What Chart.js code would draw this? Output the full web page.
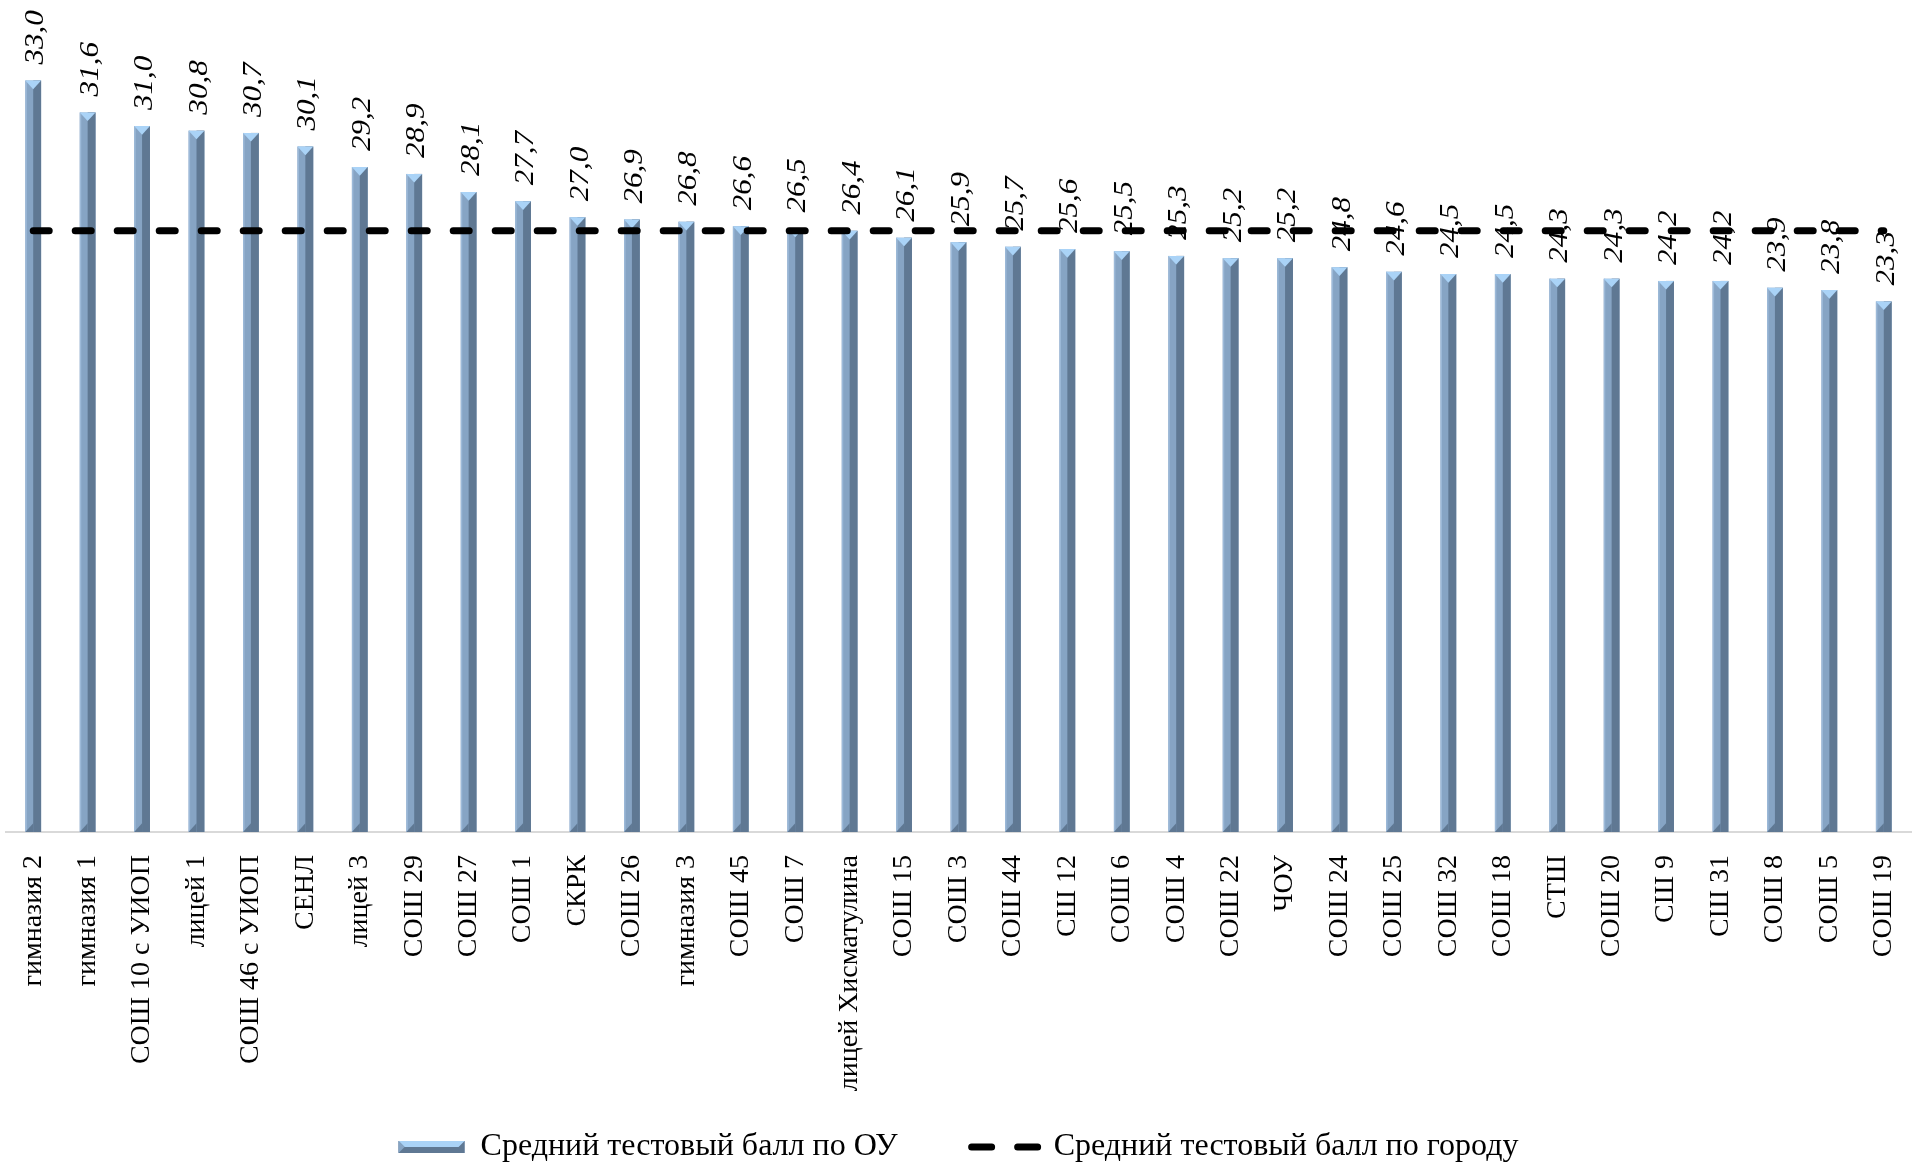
<!DOCTYPE html>
<html>
<head>
<meta charset="utf-8">
<script src="https://cdn.jsdelivr.net/npm/chart.js@4"></script>
<style>
  html, body { margin: 0; padding: 0; background: #fff; }
  #wrap { width: 1917px; height: 1166px; position: relative; }
</style>
</head>
<body>
<div id="wrap"><canvas id="chart"></canvas></div>
<script>
// data
const schools = ['гимназия 2', 'гимназия 1', 'СОШ 10 с УИОП', 'лицей 1', 'СОШ 46 с УИОП', 'СЕНЛ', 'лицей 3',
    'СОШ 29', 'СОШ 27', 'СОШ 1', 'СКРК', 'СОШ 26', 'гимназия 3', 'СОШ 45', 'СОШ 7', 'лицей Хисматулина',
    'СОШ 15', 'СОШ 3', 'СОШ 44', 'СШ 12', 'СОШ 6', 'СОШ 4', 'СОШ 22', 'ЧОУ', 'СОШ 24', 'СОШ 25', 'СОШ 32',
    'СОШ 18', 'СТШ', 'СОШ 20', 'СШ 9', 'СШ 31', 'СОШ 8', 'СОШ 5', 'СОШ 19'];
const schoolScores = [33.0, 31.6, 31.0, 30.8, 30.7, 30.1, 29.2, 28.9, 28.1, 27.7, 27.0, 26.9, 26.8, 26.6, 26.5, 26.4,
    26.1, 25.9, 25.7, 25.6, 25.5, 25.3, 25.2, 25.2, 24.8, 24.6, 24.5, 24.5, 24.3, 24.3, 24.2, 24.2, 23.9, 23.8, 23.3];
const cityScore = 26.4;
const cityLine = schools.map(() => cityScore);

const serif = '"Liberation Serif", "Times New Roman", serif';
const fmt = v => v.toFixed(1).replace('.', ',');

// bevelled look of the bars (drawn over the library's own bar rectangles)
const bevelBars = {
    id: 'bevelBars',
    afterLayout(chart) {
        // let the rotated tick labels run down past the legend's box instead of being clipped
        chart.scales.x.bottom = chart.height;
    },
    afterDatasetDraw(chart, args) {
        if (args.index !== 0) return;
        const ctx = chart.ctx;
        args.meta.data.forEach(bar => {
            const l = bar.x - bar.width / 2, r = bar.x + bar.width / 2, m = bar.x;
            const t = bar.y, b = bar.base, tip = bar.width * 0.55;
            ctx.save();
            ctx.fillStyle = '#5f7893';
            ctx.fillRect(m, t, r - m, b - t);
            ctx.fillStyle = '#9cb9d8';
            ctx.fillRect(l, t, 1.5, b - t);
            ctx.beginPath();
            ctx.moveTo(l, b); ctx.lineTo(m, b - tip); ctx.lineTo(m, b); ctx.closePath();
            ctx.fillStyle = '#5f7893';
            ctx.fill();
            ctx.beginPath();
            ctx.moveTo(l, t); ctx.lineTo(r, t); ctx.lineTo(m, t + tip); ctx.closePath();
            ctx.fillStyle = '#aad3f7';
            ctx.fill();
            ctx.restore();
        });
    },
    afterDraw(chart) {
        const box = chart.legend && chart.legend.legendHitBoxes[0];
        if (!box) return;
        const ctx = chart.ctx;
        const w = 66, h = 12, l = box.left, cy = box.top + 16, t = cy - h / 2, b = cy + h / 2;
        ctx.save();
        ctx.fillStyle = '#5f7893';
        ctx.fillRect(l, t, w, h);
        ctx.beginPath();
        ctx.moveTo(l, t); ctx.lineTo(l + w, t); ctx.lineTo(l + w - h / 2, cy); ctx.lineTo(l + h / 2, cy); ctx.closePath();
        ctx.fillStyle = '#aad3f7';
        ctx.fill();
        ctx.beginPath();
        ctx.moveTo(l, t); ctx.lineTo(l + h / 2, cy); ctx.lineTo(l, b); ctx.closePath();
        ctx.fillStyle = '#86a4c4';
        ctx.fill();
        ctx.restore();
    }
};

// rotated italic value labels above the bars
const valueLabels = {
    id: 'valueLabels',
    afterDatasetsDraw(chart) {
        const ctx = chart.ctx;
        const meta = chart.getDatasetMeta(0);
        ctx.save();
        ctx.font = 'italic 27px ' + serif;
        ctx.fillStyle = '#000';
        ctx.textAlign = 'left';
        ctx.textBaseline = 'middle';
        meta.data.forEach((bar, i) => {
            ctx.save();
            ctx.translate(bar.x + 3, bar.y - 16);
            ctx.rotate(-Math.PI / 2);
            ctx.scale(1.15, 1);
            ctx.fillText(fmt(schoolScores[i]), 0, 0);
            ctx.restore();
        });
        ctx.restore();
    }
};

document.addEventListener('DOMContentLoaded', () => {
    const ctx = document.getElementById('chart').getContext('2d');

    new Chart(ctx, {
        type: 'bar',
        data: {
            labels: schools,
            datasets: [{
                label: 'Средний тестовый балл по ОУ',
                data: schoolScores,
                backgroundColor: '#86a4c4',
                categoryPercentage: 1,
                barPercentage: 0.29,
                pointStyle: 'rect',
                order: 1
            }, {
                type: 'line',
                label: 'Средний тестовый балл по городу',
                data: cityLine,
                borderColor: '#000',
                backgroundColor: '#000',
                borderWidth: 7,
                borderDash: [16, 26],
                borderCapStyle: 'round',
                pointRadius: 0,
                pointStyle: 'line',
                fill: false,
                order: 0
            }]
        },
        options: {
            responsive: true,
            maintainAspectRatio: false,
            animation: false,
            layout: {
                padding: { top: 35, left: 6, right: 6, bottom: -7 }
            },
            scales: {
                x: {
                    grid: { display: false },
                    border: { display: true, color: '#d9d9d9', width: 2 },
                    ticks: {
                        autoSkip: false,
                        minRotation: 90,
                        maxRotation: 90,
                        padding: 15,
                        color: '#000',
                        font: { family: serif, size: 28 }
                    },
                    afterFit: scale => {
                        scale.height = 225;
                        scale.paddingLeft = 0;
                        scale.paddingRight = 0;
                    }
                },
                y: {
                    display: false,
                    min: 0,
                    max: 35
                }
            },
            plugins: {
                legend: {
                    position: 'bottom',
                    labels: {
                        usePointStyle: true,
                        pointStyleWidth: 66,
                        boxHeight: 12,
                        padding: 74,
                        color: '#000',
                        font: { family: serif, size: 32 },
                        sort: (a, b) => a.datasetIndex - b.datasetIndex,
                        generateLabels: chart => {
                            const items = Chart.defaults.plugins.legend.labels.generateLabels(chart);
                            items.forEach(item => {
                                if (item.datasetIndex === 1) {
                                    item.lineDash = [20, 26];
                                    item.lineCap = 'round';
                                    item.lineWidth = 7;
                                    item.strokeStyle = '#000';
                                }
                            });
                            return items;
                        }
                    }
                },
                tooltip: { enabled: false }
            }
        },
        plugins: [bevelBars, valueLabels]
    });
});
</script>
</body>
</html>
